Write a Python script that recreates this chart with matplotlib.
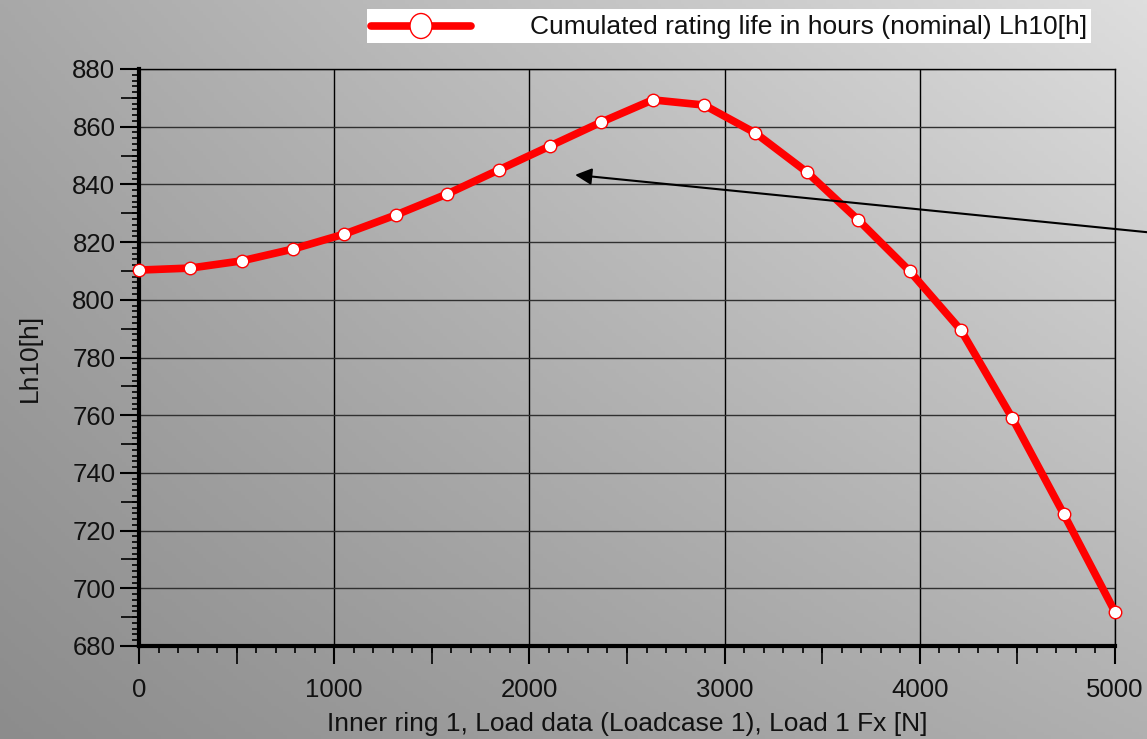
import numpy as np
import matplotlib
matplotlib.use('Agg')
import matplotlib.pyplot as plt
from matplotlib.ticker import MultipleLocator, FixedLocator
from matplotlib.patches import Rectangle, Ellipse
from matplotlib.lines import Line2D

plt.rcParams['font.family'] = ['Liberation Sans', 'DejaVu Sans']

# Data
load_fx = np.linspace(0, 5000, 20)
lh10 = [810.3, 811.0, 813.5, 817.6, 822.8, 829.4, 836.7, 845.0, 853.3, 861.6,
        869.3, 867.5, 857.8, 844.3, 827.7, 810.0, 789.5, 759.0, 725.8, 691.8]

legend_label = 'Cumulated rating life in hours (nominal) Lh10[h]'
x_label = 'Inner ring 1, Load data (Loadcase 1), Load 1 Fx [N]'
y_label = 'Lh10[h]'

W, H = 1147, 739
fig = plt.figure(figsize=(W / 100, H / 100), dpi=100)

# gradient background (bilinear between corner greys)
bg = fig.add_axes([0, 0, 1, 1], zorder=-10)
u = np.linspace(0, 1, 300)
v = np.linspace(0, 1, 200)
U, V = np.meshgrid(u, v)  # V=0 top row
tl, tr, bl, br = 168, 222, 140, 176
g = (tl * (1 - U) * (1 - V) + tr * U * (1 - V) + bl * (1 - U) * V + br * U * V) / 255.0
bg.imshow(np.dstack([g, g, g]), aspect='auto', extent=[0, 1, 0, 1], origin='upper')
bg.axis('off')

ax = fig.add_axes([139 / W, 93 / H, (1115 - 139) / W, (646 - 69) / H])
ax.patch.set_alpha(0)

ax.set_xlim(0, 5000)
ax.set_ylim(680, 880)

# grid lines
for xv in range(1000, 5001, 1000):
    ax.axvline(xv, color='black', lw=1.0, zorder=1)
for yv in range(700, 881, 20):
    ax.axhline(yv, color='#303030', lw=1.0, zorder=1)

ax.plot(load_fx, lh10, color='#ff0000', lw=5.5, marker='o', ms=9,
        mfc='white', mec='#ff0000', mew=1.0, zorder=3, solid_capstyle='round',
        clip_on=False)

# ticks
ax.xaxis.set_major_locator(MultipleLocator(1000))
ax.yaxis.set_major_locator(MultipleLocator(20))
ax.xaxis.set_minor_locator(MultipleLocator(100))
ax.yaxis.set_minor_locator(MultipleLocator(2))
ax.tick_params(which='major', direction='out', length=13, width=1.5, labelsize=18.5,
               labelcolor='#111111', pad=10)
ax.tick_params(which='minor', direction='out', length=5, width=1.2)
ax.tick_params(axis='y', which='major', length=14, pad=3)

# medium ticks at half intervals
sec_x = ax.secondary_xaxis('bottom')
sec_x.xaxis.set_major_locator(FixedLocator(np.arange(500, 5000, 1000)))
sec_x.tick_params(direction='out', length=13, width=1.2, labelbottom=False)
sec_x.spines['bottom'].set_visible(False)
sec_y = ax.secondary_yaxis('left')
sec_y.yaxis.set_major_locator(FixedLocator(np.arange(690, 880, 20)))
sec_y.tick_params(direction='out', length=13, width=1.2, labelleft=False)
sec_y.spines['left'].set_visible(False)

for side in ['left', 'bottom']:
    ax.spines[side].set_linewidth(3)
for side in ['top', 'right']:
    ax.spines[side].set_linewidth(1.0)

ax.set_xlabel(x_label, fontsize=19, color='#111111', labelpad=7)
ax.set_ylabel(y_label, fontsize=19, color='#111111', labelpad=22)

# arrow annotation
ax.annotate('', xy=(2234, 843.3), xycoords='data',
            xytext=(1200, H - 237.5), textcoords='figure pixels',
            arrowprops=dict(arrowstyle='-|>', color='black', lw=1.5,
                            mutation_scale=25, shrinkA=0, shrinkB=0),
            annotation_clip=False, zorder=4)

# legend box at the top
fig.patches.append(Rectangle((367 / W, 1 - 43 / H), (1091 - 367) / W, 34 / H,
                             transform=fig.transFigure, facecolor='white',
                             edgecolor='none', zorder=5))
fig.lines.append(Line2D([371 / W, 471 / W], [1 - 26 / H, 1 - 26 / H],
                        transform=fig.transFigure, color='#ff0000', lw=5.5,
                        solid_capstyle='round', zorder=6))
fig.patches.append(Ellipse((421 / W, 1 - 26 / H), 22 / W, 25 / H,
                           transform=fig.transFigure, facecolor='white',
                           edgecolor='#ff0000', lw=1.0, zorder=7))
fig.text(1087 / W, 1 - 27 / H, legend_label, ha='right', va='center',
         fontsize=19, color='#111111', zorder=8)

fig.savefig('out.png', dpi=100)
